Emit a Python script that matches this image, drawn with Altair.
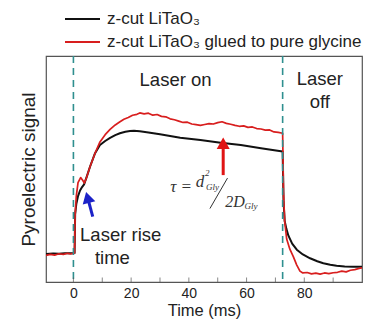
import altair as alt
import pandas as pd

# ---------------- data ----------------
series_names = ["z-cut LiTaO₃", "z-cut LiTaO₃ glued to pure glycine"]
series_colors = ["#111111", "#d81e1e"]

time_black = [-9.5, -7, -5, -3, -1, 0.4, 0.6, 1.0, 1.6, 2.3, 3.0, 3.7, 4.6, 5.75, 7.5, 9.2,
              11, 12.7, 14.5, 16.1, 18, 19.6, 21, 23, 26, 30, 37, 44, 51, 58, 65, 72.5,
              72.8, 73.2, 73.8, 74.5, 75.8, 77.4, 79.5, 82, 84.5, 86.6, 89, 91.2, 94, 97, 100]
sig_black = [0.124, 0.126, 0.125, 0.127, 0.127, 0.128, 0.30, 0.345, 0.38, 0.405, 0.42, 0.432,
             0.465, 0.51, 0.57, 0.606, 0.624, 0.638, 0.65, 0.658, 0.665, 0.668, 0.669, 0.667,
             0.662, 0.654, 0.638, 0.628, 0.616, 0.606, 0.592, 0.577,
             0.36, 0.27, 0.235, 0.205, 0.17, 0.143, 0.122, 0.105, 0.092, 0.083, 0.076, 0.072,
             0.069, 0.068, 0.068]

time_red = [-9.5, -8, -6.5, -5, -3.5, -2, -1, 0.4, 0.6, 1.0, 1.6, 2.5, 3.2, 3.8, 4.5, 5.75,
            7.5, 9.2, 11, 12.7, 14.5, 16, 17.5, 19, 20.5, 22, 23, 24.5, 26, 27.5, 29, 30.5,
            32, 33.5, 35, 36.5, 38, 39.5, 41, 42.5, 44, 45.5, 47, 48.5, 50, 51.5, 53, 54.5,
            56, 57.5, 59, 60.5, 62, 63.5, 65, 66.5, 68, 69.5, 71, 72.5, 72.8, 73.2, 73.9,
            75, 76.2, 77.4, 78.5, 79.5, 81, 82.5, 84, 85.5, 87, 88.5, 90, 91.5, 93, 94.5,
            96, 97.5, 99, 100]
sig_red = [0.118, 0.122, 0.119, 0.125, 0.122, 0.127, 0.124, 0.128, 0.30, 0.38, 0.44, 0.462,
           0.45, 0.438, 0.46, 0.51, 0.57, 0.62, 0.652, 0.675, 0.695, 0.708, 0.72, 0.728,
           0.738, 0.742, 0.748, 0.744, 0.747, 0.738, 0.741, 0.733, 0.731, 0.722, 0.718,
           0.712, 0.706, 0.707, 0.699, 0.696, 0.693, 0.697, 0.701, 0.699, 0.705, 0.709,
           0.702, 0.698, 0.693, 0.689, 0.691, 0.684, 0.686, 0.679, 0.677, 0.672, 0.673,
           0.664, 0.662, 0.658, 0.40, 0.27, 0.19, 0.145, 0.112, 0.075, 0.048, 0.04, 0.042,
           0.036, 0.039, 0.035, 0.04, 0.037, 0.041, 0.043, 0.048, 0.045, 0.052, 0.055,
           0.06, 0.063]

laser_times = [0, 72.5]
tick_times = [0, 10, 20, 30, 40, 50, 60, 70, 80, 90]
label_times = [0, 20, 40, 60, 80]

# annotation texts (positions in data units)
region_labels = ["Laser on", "Laser", "off", "Laser rise", "time"]
region_t = [35.4, 85.4, 85.4, 2.3, 13.5]
region_v = [0.894, 0.898, 0.796, 0.208, 0.106]
region_align = ["center", "center", "center", "left", "center"]

# arrows: tail -> head centre
arrow_names = ["rise", "diffusion"]
arrow_t0 = [6.7, 51.9]
arrow_v0 = [0.289, 0.473]
arrow_t1 = [4.9, 51.9]
arrow_v1 = [0.374, 0.614]
arrow_angle = [345, 0]
arrow_colors = ["#1c22c8", "#e01414"]

# ---------------- frames ----------------
df = pd.concat([
    pd.DataFrame({"time": time_black, "signal": sig_black, "series": series_names[0]}),
    pd.DataFrame({"time": time_red, "signal": sig_red, "series": series_names[1]}),
])

SANS = "Liberation Sans"
SERIF = "Liberation Serif"
TXT = "#222222"

xs = alt.Scale(domain=[-9.5, 100], nice=False, zero=False)
ys = alt.Scale(domain=[0, 1], nice=False, zero=False)
series_scale = alt.Scale(domain=series_names, range=series_colors)

lines = alt.Chart(df).mark_line(clip=True, strokeJoin="round").encode(
    x=alt.X("time:Q", scale=xs, axis=alt.Axis(
        title="Time (ms)", values=label_times, tickSize=0, domain=False, grid=False,
        labelFont=SANS, labelFontSize=14, labelColor=TXT, labelPadding=4,
        titleFont=SANS, titleFontSize=16.5, titleFontWeight="normal", titleColor=TXT,
        titlePadding=2)),
    y=alt.Y("signal:Q", scale=ys, axis=alt.Axis(
        title="Pyroelectric signal", labels=False, ticks=False, domain=False, grid=False,
        titleFont=SANS, titleFontSize=19, titleFontWeight="normal", titleColor=TXT,
        titlePadding=8)),
    color=alt.Color("series:N", scale=series_scale, legend=None),
    strokeWidth=alt.StrokeWidth("series:N", scale=alt.Scale(domain=series_names,
                                                            range=[2.0, 1.7]), legend=None),
)

dash = alt.Chart(pd.DataFrame({"time": laser_times})).mark_rule(
    color="#2f8f8f", strokeDash=[7, 5], strokeWidth=1.6).encode(x="time:Q")

ticks = alt.Chart(pd.DataFrame({"time": tick_times})).mark_tick(
    orient="vertical", color="#555555", thickness=1, size=5).encode(
    x="time:Q", y=alt.value(224))

reg_df = pd.DataFrame({"time": region_t, "signal": region_v, "label": region_labels,
                       "align": region_align})
reg_center = alt.Chart(reg_df[reg_df["align"] == "center"]).mark_text(
    font=SANS, fontSize=18.5, color=TXT, align="center", baseline="middle").encode(
    x="time:Q", y="signal:Q", text="label:N")
reg_left = alt.Chart(reg_df[reg_df["align"] == "left"]).mark_text(
    font=SANS, fontSize=18.5, color=TXT, align="left", baseline="middle").encode(
    x="time:Q", y="signal:Q", text="label:N")

arr_df = pd.DataFrame({"name": arrow_names, "time": arrow_t0, "signal": arrow_v0,
                       "time2": arrow_t1, "signal2": arrow_v1, "angle": arrow_angle,
                       "color": arrow_colors})
shafts = alt.Chart(arr_df).mark_rule(strokeWidth=3).encode(
    x="time:Q", y="signal:Q", x2="time2:Q", y2="signal2:Q",
    color=alt.Color("color:N", scale=None))
heads = alt.Chart(arr_df).mark_point(shape="triangle-up", filled=True, opacity=1,
                                     size=170).encode(
    x="time2:Q", y="signal2:Q", angle=alt.Angle("angle:Q", scale=None),
    color=alt.Color("color:N", scale=None))

# formula tau = d_Gly^2 / 2D_Gly
f_big = pd.DataFrame({"time": [37.3, 43.9, 52.6], "signal": [0.42, 0.444, 0.355],
                      "label": ["τ =", "d", "2D"], "align": ["center", "center", "left"]})
formula_main_c = alt.Chart(f_big[f_big["align"] == "center"]).mark_text(
    font=SERIF, fontStyle="italic", fontSize=17, color="#333333", baseline="middle").encode(
    x="time:Q", y="signal:Q", text="label:N")
formula_main_l = alt.Chart(f_big[f_big["align"] == "left"]).mark_text(
    font=SERIF, fontStyle="italic", fontSize=16, color="#333333", align="left",
    baseline="middle").encode(x="time:Q", y="signal:Q", text="label:N")
f_small = pd.DataFrame({"time": [45.6, 45.9, 59.3], "signal": [0.484, 0.42, 0.338],
                        "label": ["2", "Gly", "Gly"]})
formula_small = alt.Chart(f_small).mark_text(
    font=SERIF, fontStyle="italic", fontSize=9, color="#333333", align="left",
    baseline="middle").encode(x="time:Q", y="signal:Q", text="label:N")
slash = alt.Chart(pd.DataFrame({"time": [47.3], "signal": [0.325], "time2": [53.4],
                                "signal2": [0.46]})).mark_rule(
    color="#333333", strokeWidth=1).encode(x="time:Q", y="signal:Q", x2="time2:Q",
                                           y2="signal2:Q")

# legend drawn above the plot
leg_df = pd.DataFrame({"series": series_names, "row": [0, 1]})
leg_df["ly"] = -37 + 23 * leg_df["row"]
leg_lines = alt.Chart(leg_df).mark_rule(strokeWidth=2).encode(
    x=alt.value(19), x2=alt.value(54), y=alt.Y("ly:Q", scale=None),
    color=alt.Color("series:N", scale=series_scale, legend=None))
leg_text = alt.Chart(leg_df).mark_text(font=SANS, fontSize=17, color=TXT, align="left",
                                       baseline="middle").encode(
    x=alt.value(61), y=alt.Y("ly:Q", scale=None), text="series:N")

chart = alt.layer(
    lines, dash, ticks, reg_center, reg_left, shafts, heads,
    formula_main_c, formula_main_l, formula_small, slash, leg_lines, leg_text
).properties(
    width=316, height=226,
    autosize=alt.AutoSizeParams(type="none"),
    padding={"left": 38, "top": 48, "right": 5, "bottom": 38},
    background="white",
).configure_view(stroke="#555555", strokeWidth=1.2)

chart.save("out.html", embed_options={"renderer": "svg", "actions": False})
